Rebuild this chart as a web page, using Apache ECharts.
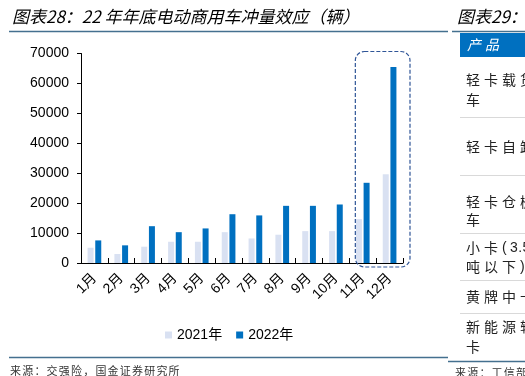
<!DOCTYPE html>
<html>
<head>
<meta charset="utf-8">
<script src="https://cdn.jsdelivr.net/npm/echarts@6/dist/echarts.min.js"></script>
<style>
html, body { margin: 0; padding: 0; background: #fff; }
#main { width: 525px; height: 376px; }
</style>
</head>
<body>
<div id="main"></div>
<script>
(function () {
    'use strict';

    // 数据
    var months = ['1月', '2月', '3月', '4月', '5月', '6月', '7月', '8月', '9月', '10月', '11月', '12月'];
    var seriesNames = ['2021年', '2022年'];
    var sales2021 = [5100, 3000, 5450, 7100, 7100, 10300, 8200, 9450, 10650, 10650, 14650, 29650];
    var sales2022 = [7550, 5900, 12300, 10300, 11550, 16300, 15900, 19100, 19100, 19550, 26800, 65500];
    var highlightMonths = ['11月', '12月'];

    var chartTitle = '图表28：22 年年底电动商用车冲量效应（辆）';
    var chartSource = '来源：交强险，国金证券研究所';
    var sideTitle = '图表29：';
    var sideHeader = '产品';
    var sideRows = [['轻卡载货', '车'], ['轻卡自卸'], ['轻卡仓栅', '车'], ['小卡(3.5吨', '吨以下)'], ['黄牌中卡'], ['新能源轻', '卡']];
    var sideSource = '来源：工信部';

    var FONT = '"Liberation Sans", Arial, "Noto Sans CJK SC", sans-serif';
    var CJK = '"Noto Sans CJK SC", sans-serif';

    var myChart = echarts.init(document.getElementById('main'));

    var option = {
        animation: false,
        textStyle: { fontFamily: FONT },
        legend: {
            left: 160,
            top: 323,
            icon: 'rect',
            itemWidth: 7,
            itemHeight: 7,
            itemGap: 14,
            textStyle: { fontSize: 14, color: '#000', fontFamily: FONT },
            data: seriesNames
        },
        grid: {
            left: 81,
            right: 122,
            top: 53.5,
            bottom: 113,
            containLabel: false,
            outerBoundsMode: 'none'
        },
        xAxis: {
            type: 'category',
            data: months,
            axisLine: { lineStyle: { color: '#000', width: 1 } },
            axisTick: { show: true, inside: true, length: 5, lineStyle: { color: '#000' } },
            axisLabel: { interval: 0, rotate: 45, margin: 13, fontSize: 14, color: '#000' },
            splitLine: { show: false }
        },
        yAxis: {
            type: 'value',
            min: 0,
            max: 70000,
            interval: 10000,
            axisLine: { show: true, lineStyle: { color: '#000', width: 1 } },
            axisTick: { show: true, length: 4, lineStyle: { color: '#000' } },
            axisLabel: {
                margin: 12, fontSize: 14, color: '#000',
                formatter: function (v) { return String(v); }
            },
            splitLine: { show: false }
        },
        series: [{
            name: seriesNames[0],
            type: 'bar',
            barWidth: 6,
            barGap: '28%',
            itemStyle: { color: '#d9e1f2' },
            data: sales2021
        }, {
            name: seriesNames[1],
            type: 'bar',
            barWidth: 6,
            itemStyle: { color: '#0070c0' },
            data: sales2022
        }]
    };

    myChart.setOption(option);

    // 逐字排布文字（原图字距较宽）
    function spaced(str, x, y, size, step, style) {
        var els = [];
        var cx = x;
        for (var i = 0; i < str.length; i++) {
            var ch = str.charAt(i);
            var ascii = ch.charCodeAt(0) < 128;
            els.push({
                type: 'text',
                x: cx,
                y: y,
                silent: true,
                style: echarts.util.extend({
                    text: ch,
                    fontSize: size,
                    fontFamily: ascii ? FONT : CJK,
                    fill: '#222',
                    verticalAlign: 'middle'
                }, style || {})
            });
            cx += ascii ? (ch === '.' ? size * 0.3 : size * 0.58) : step;
        }
        return els;
    }

    // 11-12月 虚线框
    var p11 = myChart.convertToPixel({ xAxisIndex: 0 }, highlightMonths[0]);
    var p12 = myChart.convertToPixel({ xAxisIndex: 0 }, highlightMonths[1]);
    var band = p12 - p11;
    var yTop = myChart.convertToPixel({ yAxisIndex: 0 }, 70000);
    var yBot = myChart.convertToPixel({ yAxisIndex: 0 }, 0);

    var lineColor = '#44708f';
    var g = [];
    g.push({
        type: 'text', x: 12, y: 17, silent: true,
        style: { text: chartTitle, fontSize: 17, fontStyle: 'italic', fontFamily: CJK, fill: '#000', verticalAlign: 'middle' }
    });
    g.push({ type: 'line', silent: true, shape: { x1: 9, y1: 31.5, x2: 448, y2: 31.5 }, style: { stroke: lineColor, lineWidth: 1.5 } });
    g.push({ type: 'line', silent: true, shape: { x1: 9, y1: 357.5, x2: 448, y2: 357.5 }, style: { stroke: lineColor, lineWidth: 1.5 } });
    g = g.concat(spaced(chartSource, 10, 371, 11, 12.2, { fill: '#333' }));

    // 右侧表格（被裁切）
    g.push({
        type: 'text', x: 457, y: 17, silent: true,
        style: { text: sideTitle, fontSize: 17, fontStyle: 'italic', fontFamily: CJK, fill: '#000', verticalAlign: 'middle' }
    });
    g.push({ type: 'line', silent: true, shape: { x1: 452, y1: 31.5, x2: 525, y2: 31.5 }, style: { stroke: lineColor, lineWidth: 1.5 } });
    g.push({ type: 'rect', silent: true, shape: { x: 460, y: 33, width: 70, height: 24 }, style: { fill: '#0070c0' } });
    g = g.concat(spaced(sideHeader, 467, 45, 14, 18, { fill: '#fff', fontStyle: 'italic' }));

    var rowLines = [[80, 100], [147], [202, 220], [248, 267], [297], [327, 347]];
    var seps = [117, 175, 233, 280, 313];
    sideRows.forEach(function (row, i) {
        row.forEach(function (txt, j) {
            g = g.concat(spaced(txt, 466, rowLines[i][j], 14, 18));
        });
    });
    seps.forEach(function (y) {
        g.push({ type: 'line', silent: true, shape: { x1: 460, y1: y + 0.5, x2: 525, y2: y + 0.5 }, style: { stroke: '#d9d9d9', lineWidth: 1 } });
    });
    g.push({ type: 'line', silent: true, shape: { x1: 448, y1: 361.5, x2: 525, y2: 361.5 }, style: { stroke: lineColor, lineWidth: 1.5 } });
    g = g.concat(spaced(sideSource, 455, 373, 11, 12.2, { fill: '#333' }));

    g.push({
        type: 'rect',
        silent: true,
        z: 10,
        shape: {
            x: p11 - band / 2 + 6,
            y: yTop - 2,
            width: band * 2 + 1,
            height: yBot - yTop + 6,
            r: 9
        },
        style: { fill: 'none', stroke: '#2f5597', lineWidth: 1.2, lineDash: [4, 2] }
    });

    myChart.setOption({ graphic: g });

    window.addEventListener('resize', function () {
        myChart.resize();
    });
})();
</script>
</body>
</html>
